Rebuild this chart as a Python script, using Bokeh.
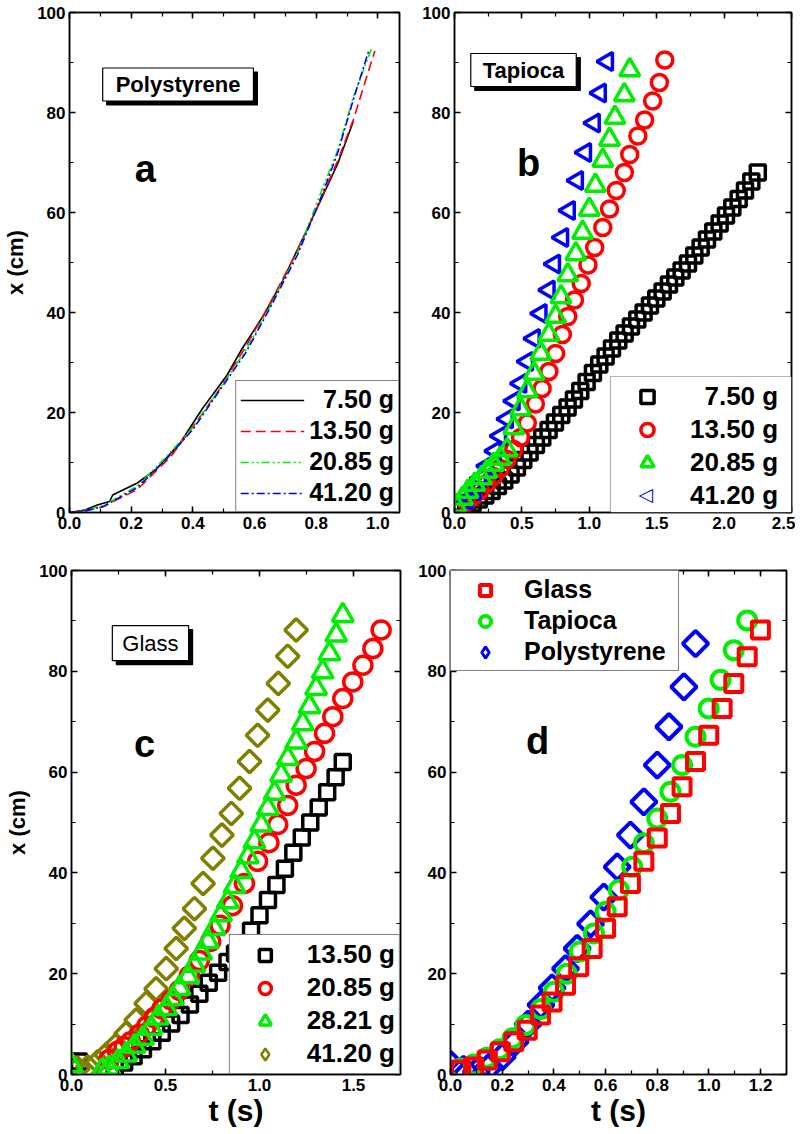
import math
from bokeh.plotting import figure
from bokeh.models import (Range1d, LinearAxis, SingleIntervalTicker, NumeralTickFormatter,
                          Legend, LegendItem, Label, BoxAnnotation)
from bokeh.layouts import column, row
from bokeh.embed import file_html
from bokeh.resources import INLINE

# ---------------- data ----------------
# Panel a: Polystyrene (continuous curves)
a_t_750 = [0, 0.05, 0.09, 0.13, 0.14, 0.22, 0.28, 0.36, 0.43, 0.51, 0.56, 0.63, 0.69, 0.75, 0.80, 0.87, 0.92]
a_x_750 = [0, 0.5, 1.5, 2.2, 3.5, 5.9, 8.6, 14.0, 20.7, 27.4, 32.8, 39.5, 46.2, 54.0, 60.5, 69.8, 78.2]
a_t_1350 = [0, 0.05, 0.11, 0.22, 0.33, 0.41, 0.49, 0.57, 0.65, 0.73, 0.78, 0.87, 0.92, 0.99]
a_x_1350 = [0, 0.3, 1.2, 4.6, 11.3, 18.0, 25.0, 33.0, 41.8, 51.3, 57.8, 70.4, 78.5, 92.3]
a_t_2085 = [0, 0.05, 0.11, 0.22, 0.31, 0.40, 0.49, 0.57, 0.65, 0.74, 0.81, 0.87, 0.92, 0.98]
a_x_2085 = [0, 0.4, 1.4, 5.3, 10.9, 17.0, 25.0, 32.3, 41.2, 52.0, 63.2, 72.5, 83.0, 92.9]
a_t_4120 = [0, 0.05, 0.11, 0.22, 0.31, 0.40, 0.49, 0.57, 0.65, 0.74, 0.82, 0.87, 0.92, 0.97]
a_x_4120 = [0, 0.3, 1.2, 5.0, 10.4, 16.6, 24.7, 31.8, 40.9, 51.6, 63.7, 72.0, 82.5, 92.3]
a_labels = ["\u20077.50 g", "13.50 g", "20.85 g", "41.20 g"]

# Panel b: Tapioca
b_t_750 = [0.04, 0.087, 0.134, 0.181, 0.228, 0.275, 0.322, 0.369, 0.416, 0.463, 0.51, 0.557, 0.604, 0.651,
           0.698, 0.745, 0.792, 0.839, 0.886, 0.933, 0.98, 1.027, 1.074, 1.121, 1.168, 1.215, 1.262, 1.309,
           1.356, 1.403, 1.45, 1.497, 1.544, 1.591, 1.638, 1.685, 1.732, 1.779, 1.826, 1.873, 1.92, 1.967,
           2.014, 2.061, 2.108, 2.155, 2.202, 2.25]
b_x_750 = [0.5, 1.1, 1.8, 2.6, 3.4, 4.3, 5.3, 6.4, 7.6, 9.0, 10.5, 12.0, 13.5, 15.0,
           16.5, 18.0, 19.5, 21.0, 22.6, 24.3, 26.1, 27.9, 29.6, 31.2, 32.8, 34.4, 35.8, 37.2,
           38.6, 40.0, 41.4, 42.8, 44.2, 45.6, 47.0, 48.4, 49.8, 51.4, 53.0, 54.6, 56.2, 57.8,
           59.4, 61.0, 62.7, 64.4, 66.2, 68.0]
b_t_1350 = [0.04, 0.09, 0.14, 0.19, 0.24, 0.29, 0.34, 0.39, 0.44, 0.49, 0.54, 0.60, 0.65, 0.70, 0.75, 0.80,
            0.84, 0.89, 0.94, 0.99, 1.04, 1.10, 1.15, 1.20, 1.26, 1.30, 1.36, 1.41, 1.47, 1.52, 1.56]
b_x_1350 = [1.0, 2.0, 3.2, 4.4, 5.8, 7.2, 8.8, 10.6, 12.6, 15.0, 17.9, 21.7, 24.8, 28.2, 31.8, 35.6,
            39.2, 42.5, 45.8, 49.5, 53.0, 57.0, 60.7, 64.4, 68.0, 71.6, 75.3, 78.5, 82.3, 86.0, 90.5]
b_t_2085 = [0.01, 0.06, 0.10, 0.15, 0.20, 0.24, 0.29, 0.34, 0.39, 0.44, 0.49, 0.54, 0.59, 0.64, 0.70, 0.75,
            0.79, 0.84, 0.90, 0.95, 1.00, 1.045, 1.10, 1.15, 1.19, 1.26, 1.30]
b_x_2085 = [1.4, 2.8, 4.2, 5.6, 6.9, 8.2, 9.6, 10.8, 12.5, 16.9, 20.7, 24.3, 27.8, 31.8, 35.6, 39.2,
            43.1, 47.5, 51.7, 56.0, 60.6, 65.4, 70.4, 74.6, 79.0, 83.5, 88.5]
b_t_4120 = [0.04, 0.09, 0.15, 0.19, 0.24, 0.30, 0.34, 0.39, 0.44, 0.49, 0.54, 0.59, 0.64, 0.70, 0.74, 0.80,
            0.85, 0.91, 0.97, 1.035, 1.08, 1.133]
b_x_4120 = [1.2, 2.5, 4.4, 6.8, 9.3, 12.3, 15.3, 18.7, 22.3, 25.8, 30.2, 34.8, 39.8, 44.5, 49.7, 55.0,
            60.4, 66.4, 72.0, 77.9, 83.9, 90.2]
b_labels = ["\u20077.50 g", "13.50 g", "20.85 g", "41.20 g"]

# Panel c: Glass
c_t_1350 = [0.04, 0.23, 0.28, 0.33, 0.38, 0.43, 0.48, 0.53, 0.58, 0.63, 0.68, 0.73, 0.78, 0.83, 0.87, 0.91,
            0.955, 1.0, 1.045, 1.09, 1.135, 1.18, 1.225, 1.27, 1.315, 1.36, 1.405, 1.443]
c_x_1350 = [2.6, 1.4, 2.4, 3.6, 5.0, 6.6, 8.3, 10.1, 11.8, 13.9, 16.0, 18.2, 20.2, 22.3, 24.0, 25.6,
            28.5, 31.6, 34.6, 37.6, 40.8, 44.0, 47.0, 50.0, 53.0, 56.0, 59.0, 62.0]
c_t_2085 = [0.20, 0.245, 0.28, 0.314, 0.36, 0.40, 0.44, 0.48, 0.53, 0.574, 0.627, 0.68, 0.74, 0.79, 0.856,
            0.92, 0.99, 1.05, 1.097, 1.15, 1.195, 1.248, 1.293, 1.346, 1.39, 1.443, 1.496, 1.55, 1.603, 1.647]
c_x_2085 = [3.0, 4.6, 5.5, 6.5, 8.0, 9.6, 11.3, 13.0, 14.8, 16.7, 19.6, 22.6, 26.4, 29.6, 33.5,
            37.9, 42.3, 46.0, 49.6, 53.4, 57.4, 60.7, 64.1, 67.7, 71.0, 74.6, 77.9, 81.2, 84.5, 88.2]
c_t_2821 = [0.0, 0.16, 0.20, 0.247, 0.29, 0.335, 0.38, 0.424, 0.459, 0.504, 0.539, 0.574, 0.62, 0.654, 0.69,
            0.725, 0.76, 0.796, 0.831, 0.867, 0.902, 0.938, 0.973, 1.009, 1.044, 1.08, 1.115, 1.15, 1.195,
            1.23, 1.266, 1.301, 1.336, 1.372, 1.408, 1.443]
c_x_2821 = [1.8, 0.7, 1.3, 2.6, 3.9, 5.6, 7.2, 9.2, 11.2, 13.1, 15.1, 17.1, 19.4, 21.7, 24.1,
            26.4, 29.0, 31.7, 34.3, 37.3, 40.3, 43.2, 46.2, 49.5, 52.8, 55.8, 59.4, 62.7, 66.0,
            69.6, 73.0, 76.6, 79.9, 83.5, 87.2, 91.1]
c_t_4120 = [0.0, 0.034, 0.087, 0.14, 0.184, 0.237, 0.29, 0.344, 0.397, 0.45, 0.504, 0.557, 0.60, 0.654, 0.70,
            0.752, 0.80, 0.85, 0.894, 0.947, 0.99, 1.044, 1.10, 1.15, 1.195]
c_x_4120 = [1.8, 1.2, 1.5, 2.5, 3.9, 5.8, 8.1, 10.8, 14.1, 17.0, 21.0, 25.0, 29.0, 32.9, 37.9,
            42.9, 47.5, 51.8, 56.8, 62.1, 67.3, 72.3, 77.6, 83.0, 88.2]
c_labels = ["13.50 g", "20.85 g", "28.21 g", "41.20 g"]

# Panel d: comparison
d_t_glass = [0.039, 0.09, 0.142, 0.193, 0.245, 0.297, 0.348, 0.393, 0.445, 0.496, 0.548, 0.60, 0.645, 0.696,
             0.748, 0.80, 0.851, 0.896, 0.948, 0.999, 1.051, 1.096, 1.148, 1.199]
d_x_glass = [0.9, 1.5, 2.9, 4.5, 6.5, 8.8, 11.8, 14.4, 17.7, 21.4, 25.0, 29.0, 33.3, 37.9,
             42.3, 46.9, 51.8, 57.1, 62.1, 67.3, 72.6, 77.6, 82.9, 88.2]
d_t_tapioca = [0.04, 0.09, 0.14, 0.19, 0.24, 0.29, 0.35, 0.40, 0.45, 0.50, 0.555, 0.60, 0.651, 0.703, 0.748,
               0.80, 0.851, 0.896, 0.948, 0.999, 1.045, 1.096, 1.148]
d_x_tapioca = [1.2, 2.0, 3.3, 5.0, 7.2, 9.8, 13.0, 16.4, 20.0, 24.4, 28.0, 32.3, 36.6, 41.2, 45.9,
               50.8, 56.1, 61.4, 67.0, 72.6, 78.3, 84.2, 90.1]
d_t_poly = [0.0, 0.05, 0.10, 0.15, 0.20, 0.25, 0.30, 0.35, 0.393, 0.445, 0.49, 0.542, 0.593, 0.645, 0.696,
            0.748, 0.80, 0.845, 0.903, 0.948]
d_x_poly = [2.0, 1.0, 0.5, 1.5, 3.5, 6.5, 10.0, 13.8, 17.2, 21.0, 25.0, 29.9, 35.2, 41.2, 47.5,
            54.1, 61.4, 69.0, 76.9, 85.5]
d_labels = ["Glass", "Tapioca", "Polystyrene"]

# ---------------- styling helpers ----------------
FONT = "Liberation Sans"
BLACK, RED, GREEN, BLUE, OLIVE = "#000000", "#ff0000", "#00ee00", "#0000ff", "#808000"


def make_fig(xmax, xint, mb_left, mb_right, mb_top, mb_bottom, fw, fh, xlabel=None, ylabel=None):
    p = figure(frame_width=fw, frame_height=fh, x_range=Range1d(0, xmax), y_range=Range1d(0, 100),
               output_backend="svg", toolbar_location=None, x_axis_type=None, y_axis_type=None,
               min_border_left=mb_left, min_border_right=mb_right,
               min_border_top=mb_top, min_border_bottom=mb_bottom)
    p.outline_line_color = "black"
    p.outline_line_width = 1.5
    p.background_fill_color = "white"
    p.border_fill_color = "white"
    for loc in ("below", "left", "above", "right"):
        if loc in ("below", "above"):
            ax = LinearAxis(ticker=SingleIntervalTicker(interval=xint, num_minor_ticks=2),
                            formatter=NumeralTickFormatter(format="0.0"))
        else:
            ax = LinearAxis(ticker=SingleIntervalTicker(interval=20, num_minor_ticks=2))
        ax.major_tick_in = 6
        ax.major_tick_out = 0
        ax.minor_tick_in = 4
        ax.minor_tick_out = 0
        ax.axis_line_width = 1.5
        ax.axis_line_color = "black"
        ax.major_tick_line_width = 1.5
        ax.minor_tick_line_width = 1.2
        ax.major_label_text_font = FONT
        ax.major_label_text_font_style = "bold"
        ax.major_label_text_font_size = "17px"
        ax.major_label_text_color = "#000000"
        ax.major_label_standoff = 4
        if loc in ("above", "right"):
            ax.major_label_text_font_size = "0px"
            ax.major_label_text_color = None
            ax.major_label_standoff = 0
        if loc == "below" and xlabel:
            ax.axis_label = xlabel
            ax.axis_label_text_font = FONT
            ax.axis_label_text_font_style = "bold"
            ax.axis_label_text_font_size = "30px"
            ax.axis_label_text_color = "#000000"
            ax.axis_label_standoff = 0
        if loc == "left" and ylabel:
            ax.axis_label = ylabel
            ax.axis_label_text_font = FONT
            ax.axis_label_text_font_style = "bold"
            ax.axis_label_text_font_size = "22px"
            ax.axis_label_text_color = "#000000"
            ax.axis_label_standoff = 6
        p.add_layout(ax, loc)
    return p


def boxed(p, x, y, text, bold, pad_h, pad_v, size="22px"):
    common = dict(x=x, y=y, text=text, text_font=FONT, text_font_size=size,
                  text_font_style="bold" if bold else "normal",
                  text_align="center", text_baseline="middle",
                  padding=dict(left=pad_h, right=pad_h, top=pad_v, bottom=pad_v),
                  border_line_color="black", border_line_width=1.2)
    p.add_layout(Label(x_offset=4, y_offset=-4, text_color="black",
                       background_fill_color="black", **common))
    p.add_layout(Label(text_color="black", background_fill_color="white", **common))


def letter(p, x, y, text):
    p.add_layout(Label(x=x, y=y, text=text, text_font=FONT, text_font_size="38px",
                       text_font_style="bold", text_align="center", text_baseline="middle",
                       text_color="black"))


def add_legend(p, items, location, glyph_w, glyph_h, standoff, pad, font_size, label_w,
               spacing=2, framed=True):
    leg = Legend(items=items, location=location, margin=0, padding=pad, spacing=spacing,
                 glyph_width=glyph_w, glyph_height=glyph_h, label_height=glyph_h,
                 label_width=label_w, label_standoff=standoff,
                 label_text_font=FONT, label_text_font_style="bold",
                 label_text_font_size=font_size, label_text_color="black",
                 border_line_color="black" if framed else None, border_line_width=1.2,
                 background_fill_color="white", background_fill_alpha=1.0 if framed else 0.0)
    p.add_layout(leg)


lw = 3.5

# ---------------- panel a ----------------
pa = make_fig(1.07, 0.2, 69, 3, 12, 32, 330, 500, ylabel="x (cm)")
ra1 = pa.line(a_t_750, a_x_750, line_color=BLACK, line_width=1.6)
ra2 = pa.line(a_t_1350, a_x_1350, line_color=RED, line_width=1.6, line_dash="10 5")
ra3 = pa.line(a_t_2085, a_x_2085, line_color=GREEN, line_width=1.6, line_dash="8 3 2 3 2 3")
ra4 = pa.line(a_t_4120, a_x_4120, line_color=BLUE, line_width=1.6, line_dash="8 3 2 3")
boxed(pa, 0.352, 85.6, "Polystyrene", True, 13, 4)
letter(pa, 0.246, 68.8, "a")
add_legend(pa, [LegendItem(label=l, renderers=[r]) for l, r in zip(a_labels, [ra1, ra2, ra3, ra4])],
           "bottom_right", 64, 28, 5, 4, "25px", 81)

# ---------------- panel b ----------------
pb = make_fig(2.5, 0.5, 52, 4, 12, 32, 337, 500)
rb1 = pb.scatter(b_t_750, b_x_750, marker="square", size=15, fill_color=None, line_color=BLACK, line_width=lw)
rb2 = pb.scatter(b_t_1350, b_x_1350, marker="circle", size=16, fill_color=None, line_color=RED, line_width=lw)
rb4 = pb.scatter(b_t_4120, b_x_4120, marker="triangle", angle=math.pi / 2, size=18, fill_color=None,
                 line_color=BLUE, line_width=lw)
rb3 = pb.scatter(b_t_2085, b_x_2085, marker="triangle", size=20, fill_color=None, line_color=GREEN, line_width=lw)
rb4_key = pb.scatter(b_t_4120, b_x_4120, marker="triangle", size=10, fill_alpha=0, line_alpha=0,
                     visible=False)
boxed(pb, 0.512, 88.5, "Tapioca", True, 12, 4)
letter(pb, 0.549, 70.0, "b")
# legend frame (white box) drawn first, then the rotated key, then a transparent legend on top
pb.add_layout(BoxAnnotation(left=1.157, right=2.5, bottom=0, top=27.2, fill_color="white", fill_alpha=1.0,
                            line_color="black", line_width=1.2))
pb.add_layout(Label(x=1.417, y=3.7, text="\u25c1", text_font="DejaVu Sans", text_font_style="bold",
                    text_font_size="19px", text_color=BLUE, text_align="center", text_baseline="middle"))
add_legend(pb, [LegendItem(label=l, renderers=[r]) for l, r in zip(b_labels, [rb1, rb2, rb3, rb4_key])],
           "bottom_right", 66, 33, 10, 2, "26px", 101, spacing=0, framed=False)

# ---------------- panel c ----------------
pc = make_fig(1.75, 0.5, 71, 3, 26, 52, 329, 504, xlabel="t (s)", ylabel="x (cm)")
rc1 = pc.scatter(c_t_1350, c_x_1350, marker="square", size=15, fill_color=None, line_color=BLACK, line_width=lw)
rc4 = pc.scatter(c_t_4120, c_x_4120, marker="square", angle=math.pi / 4, size=16, fill_color=None,
                 line_color=OLIVE, line_width=lw)
rc2 = pc.scatter(c_t_2085, c_x_2085, marker="circle", size=18, fill_color=None, line_color=RED, line_width=lw)
rc3 = pc.scatter(c_t_2821, c_x_2821, marker="triangle", size=21, fill_color=None, line_color=GREEN, line_width=lw)
rc4_key = pc.scatter(c_t_4120, c_x_4120, marker="diamond", size=10, fill_color=None, line_color=OLIVE,
                     line_width=2.5, visible=False)
boxed(pc, 0.42, 85.6, "Glass", False, 10, 5)
letter(pc, 0.388, 65.5, "c")
add_legend(pc, [LegendItem(label=l, renderers=[r]) for l, r in zip(c_labels, [rc1, rc2, rc3, rc4_key])],
           "bottom_right", 62, 30, 11, 4, "26px", 87)

# ---------------- panel d ----------------
pd_ = make_fig(1.3, 0.2, 47, 4, 26, 52, 336, 504, xlabel="t (s)")
lw_d = 4
rd3 = pd_.scatter(d_t_poly, d_x_poly, marker="square", angle=math.pi / 4, size=18, fill_color=None,
                  line_color=BLUE, line_width=lw_d)
rd2 = pd_.scatter(d_t_tapioca, d_x_tapioca, marker="circle", size=18, fill_color=None, line_color=GREEN,
                  line_width=lw_d)
rd1 = pd_.scatter(d_t_glass, d_x_glass, marker="square", size=17, fill_color=None, line_color=RED,
                  line_width=lw_d)
rd3_key = pd_.scatter(d_t_poly, d_x_poly, marker="diamond", size=10, fill_color=None, line_color=BLUE,
                      line_width=3, visible=False)
letter(pd_, 0.337, 66.1, "d")
add_legend(pd_, [LegendItem(label=l, renderers=[r]) for l, r in zip(d_labels, [rd1, rd2, rd3_key])],
           "top_left", 60, 28, 9, 4, "25px", 150)

layout = column(row(pa, pb), row(pc, pd_))
open("out.html", "w").write(file_html(layout, INLINE))
